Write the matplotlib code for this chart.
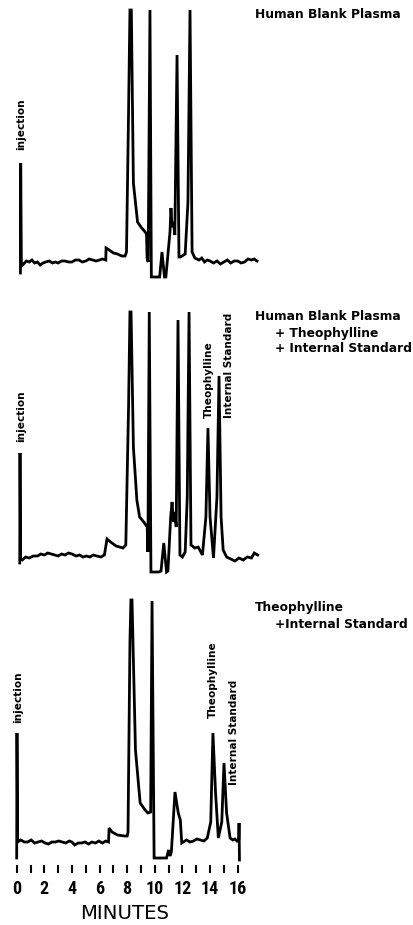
import matplotlib
matplotlib.use("Agg")
import matplotlib.pyplot as plt
import matplotlib.transforms as mtransforms
from matplotlib import font_manager

# ---------------- data (minutes, detector response in arbitrary units, baseline = 0) -------------
t_blank = [0.27, 0.29, 0.34, 0.5, 0.7, 0.9, 1.1, 1.3, 1.5, 1.7, 1.9, 2.1, 2.35, 2.6, 2.8, 3.0, 3.25,
           3.5, 3.75, 4.0, 4.25, 4.5, 4.75, 5.0, 5.25, 5.5, 5.75, 6.0, 6.2, 6.45,
           6.47, 6.7, 7.0, 7.3, 7.6, 7.85, 7.95, 8.1, 8.2, 8.3, 8.45, 8.75, 9.0, 9.3, 9.4,
           9.44, 9.52, 9.65, 9.75, 10.35, 10.52, 10.7, 10.8, 11.1, 11.17, 11.25, 11.35, 11.45,
           11.61, 11.75, 11.85, 12.2, 12.4, 12.55, 12.7, 12.9, 13.2, 13.4, 13.6, 13.8, 14.0,
           14.25, 14.5, 14.75, 15.0, 15.25, 15.5, 15.75, 16.0, 16.25, 16.5, 16.75, 17.0, 17.2, 17.4]
r_blank = [-11, 99, -4, -2, 1, 0, 2, -1, 0, -3, -1, 0, 1, -1, 0, -1, 1,
           1, 0, 0, 2, 2, 0, 1, 3, 2, 1, 2, 3, 2,
           14, 12, 9, 8, 6, 6, 10, 150, 252, 252, 79, 40, 35, 30, 28,
           4, 0, 252, -15, -15, 10, -15, -15, 30, 54, 35, 40, 27,
           207, 5, 5, 8, 60, 252, 10, 4, 2, 4, 0, 2, 1,
           -1, 1, -2, 0, 2, -1, 1, 1, -1, 0, 3, 2, 3, 1]

t_spiked = [0.22, 0.24, 0.28, 0.4, 0.65, 0.9, 1.2, 1.5, 1.75, 2.0, 2.25, 2.5, 2.75, 3.0, 3.25,
            3.5, 3.75, 4.0, 4.3, 4.55, 4.8, 5.05, 5.3, 5.55, 5.8, 6.1, 6.35,
            6.54, 6.8, 7.2, 7.7, 7.9, 8.1, 8.2, 8.28, 8.35, 8.45, 8.7, 8.9, 9.2, 9.45,
            9.5, 9.6, 9.72, 10.3, 10.45, 10.65, 10.85, 10.95, 11.15, 11.25, 11.35, 11.45, 11.55,
            11.68, 11.82, 12.0, 12.2, 12.35, 12.48, 12.62, 12.9, 13.14, 13.45, 13.7, 13.85,
            14.0, 14.25, 14.5, 14.65, 14.8, 14.95, 15.2, 15.5, 15.8, 16.1, 16.4, 16.7, 17.0,
            17.2, 17.45]
r_spiked = [-6, 104, -2, -3, 0, -1, 1, 1, 3, 2, 4, 3, 2, 1, 3,
            2, 4, 3, 1, 2, 0, 1, 0, 2, 1, 0, 2,
            18, 15, 11, 9, 12, 150, 245, 245, 190, 110, 57, 40, 35, 30,
            5, 245, -15, -15, -14, 14, -15, -14, 40, 55, 35, 45, 30,
            237, 2, 0, 5, 60, 245, 12, 9, 10, 2, 40, 129,
            40, -1, 60, 181, 40, 7, 0, -2, -4, -1, -3, 0, -1,
            4, 2]

t_std = [0.0, 0.02, 0.07, 0.3, 0.55, 0.8, 1.05, 1.3, 1.55, 1.8, 2.05, 2.3, 2.55, 2.8, 3.05, 3.3,
         3.55, 3.8, 4.0, 4.2, 4.45, 4.7, 4.95, 5.2, 5.45, 5.7, 5.95, 6.2, 6.45, 6.65,
         6.69, 6.9, 7.3, 7.8, 8.0, 8.06, 8.2, 8.27, 8.35, 8.6, 8.94, 9.3, 9.5,
         9.7, 9.8, 9.95, 10.85, 11.0, 11.1, 11.2, 11.46, 11.7, 11.85, 11.95,
         12.3, 12.55, 12.8, 13.05, 13.3, 13.55, 13.8, 14.05, 14.21, 14.4, 14.6, 14.85, 15.01,
         15.2, 15.45, 15.65, 15.8, 15.95, 16.08, 16.1, 16.13]
r_std = [-16, 109, 0, 2, 0, 0, 2, -1, 0, 1, -1, -2, 0, 0, 1, 0,
         -1, 1, 0, -3, -1, -1, 0, -2, 0, -1, 1, -1, 1, 0,
         14, 10, 7, 6, 6, 10, 200, 242, 242, 92, 39, 32, 29,
         30, 241, -16, -16, -8, -14, -10, 50, 29, 22, -1,
         2, 0, 1, 3, 2, 1, 4, 20, 109, 49, 4, 20, 79,
         29, 4, 2, 3, 1, 3, 19, -18]

tick_minutes = list(range(0, 17))
tick_labels = [str(m) if m % 2 == 0 else "" for m in tick_minutes]

# ---------------- fonts ----------------
installed = {f.name for f in font_manager.fontManager.ttflist}
narrow = None
for cand in ["Liberation Sans Narrow", "DejaVu Sans Condensed", "Roboto Condensed",
             "Open Sans Condensed", "Liberation Sans", "Roboto"]:
    if cand in installed:
        narrow = cand
        break
if narrow is None:
    narrow = "DejaVu Sans"

# ---------------- layout ----------------
W, H = 413, 925
fig = plt.figure(figsize=(W / 100, H / 100), dpi=100)
fig.patch.set_facecolor("white")

px_per_min = 13.81
x0_px = 16.7
xlim = (-x0_px / px_per_min, (W - x0_px) / px_per_min)

# (top row px, bottom row px, baseline row px)
panels = [(0, 300, 262), (300, 600, 557), (600, 865, 842)]
axes = []
for top, bot, base in panels:
    ax = fig.add_axes([0, (H - bot) / H, 1, (bot - top) / H])
    ax.set_xlim(*xlim)
    ax.set_ylim(base - bot, base - top)
    ax.axis("off")
    axes.append(ax)

lw = 2.0
bold = dict(family="DejaVu Sans", fontweight="bold", color="black")

# ---- panel 1 ----
ax = axes[0]
ax.plot(t_blank, r_blank, color="black", lw=lw, clip_on=False, solid_joinstyle="miter")
ax.text(0.31, 112, "injection", rotation=90, ha="center", va="bottom", fontsize=7.6, **bold)
ax.text(17.26, 247, "Human Blank Plasma", ha="left", va="center", fontsize=8.8, **bold)

# ---- panel 2 ----
ax = axes[1]
ax.plot(t_spiked, r_spiked, color="black", lw=lw, clip_on=False, solid_joinstyle="miter")
ax.text(0.31, 115, "injection", rotation=90, ha="center", va="bottom", fontsize=7.6, **bold)
ax.text(13.93, 139, "Theophylline", rotation=90, ha="center", va="bottom", fontsize=7.6, **bold)
ax.text(15.37, 139, "Internal Standard", rotation=90, ha="center", va="bottom", fontsize=7.6, **bold)
ax.text(17.26, 241, "Human Blank Plasma", ha="left", va="center", fontsize=8.8, **bold)
ax.text(18.7, 224, "+ Theophylline", ha="left", va="center", fontsize=8.8, **bold)
ax.text(18.7, 209, "+ Internal Standard", ha="left", va="center", fontsize=8.8, **bold)

# ---- panel 3 ----
ax = axes[2]
ax.plot(t_std, r_std, color="black", lw=lw, clip_on=False, solid_joinstyle="miter")
ax.text(0.09, 119, "injection", rotation=90, ha="center", va="bottom", fontsize=7.6, **bold)
ax.text(14.18, 124, "Theophylline", rotation=90, ha="center", va="bottom", fontsize=7.6, **bold)
ax.text(15.74, 57, "Internal Standard", rotation=90, ha="center", va="bottom", fontsize=7.6, **bold)
ax.text(17.26, 235, "Theophylline", ha="left", va="center", fontsize=8.8, **bold)
ax.text(18.7, 218, "+Internal Standard", ha="left", va="center", fontsize=8.8, **bold)

# x axis (ticks only, no spine)
ax.axis("on")
for s in ax.spines.values():
    s.set_visible(False)
ax.set_yticks([])
ax.set_xticks(tick_minutes)
ax.set_xticklabels(tick_labels)
ax.tick_params(axis="x", direction="out", length=6, width=1.5, color="black", pad=5,
               labelsize=13)
for lab in ax.get_xticklabels():
    lab.set_fontweight("bold")
    lab.set_family([narrow, "DejaVu Sans"])
ax.patch.set_alpha(0)

trans = mtransforms.blended_transform_factory(ax.transData, fig.transFigure)
ax.text(7.8, (H - 913.5) / H, "MINUTES", transform=trans, ha="center", va="center",
        fontsize=14.2, family="DejaVu Sans", color="black")

fig.savefig("out.png", dpi=100, facecolor="white")
